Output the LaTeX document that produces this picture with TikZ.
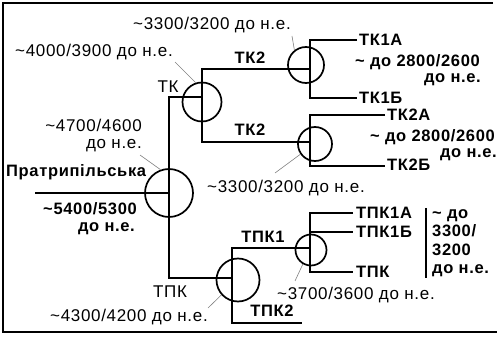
\documentclass[tikz,border=0pt]{standalone}
\usepackage{fontspec}
\setmainfont{Liberation Sans}
\newfontfamily\regfont[LetterSpace=4]{Liberation Sans}
\newfontfamily\boldfont[LetterSpace=4]{Liberation Sans Bold}
\newcommand\tld{\char"7E\relax}
\begin{document}
\begin{tikzpicture}[x=1pt,y=-1pt,
  trunk/.style={line width=2.3pt},
  branch/.style={line width=1.9pt},
  ring/.style={circle,draw,line width=1.7pt,inner sep=0pt},
  leader/.style={line width=0.6pt,gray},
  bl/.style={font=\boldfont\fontsize{16.5}{17}\selectfont,inner sep=0pt},
  rl/.style={font=\regfont\fontsize{17}{17}\selectfont,inner sep=0pt}]
\useasboundingbox (0,0) rectangle (499,337);
% frame
\draw[line width=2pt] (493,3) -- (3,3) -- (3,332) -- (497,332);
% circles
\node[ring,minimum size=48pt] (main) at (169,193) {};
\node[ring,minimum size=39pt] (tk) at (202,102) {};
\node[ring,minimum size=36pt] (tkone) at (306,65) {};
\node[ring,minimum size=34pt] (tktwo) at (315,144) {};
\node[ring,minimum size=43pt] (tpk) at (238,280) {};
\node[ring,minimum size=31pt] (tpkone) at (311,250) {};
% junction coordinates
\coordinate (pstart) at (35,193);
\coordinate (mtop) at (169,97);
\coordinate (mbot) at (169,278);
\coordinate (tkin) at (202,97);
\coordinate (tkup) at (202,69);
\coordinate (tkdn) at (202,142);
\coordinate (tkonein) at (310,69);
\coordinate (tkoneup) at (310,40);
\coordinate (tkonedn) at (310,98);
\coordinate (tkoneA) at (357,40);
\coordinate (tkoneB) at (357,98);
\coordinate (tktwoin) at (310,142);
\coordinate (tktwoup) at (310,115);
\coordinate (tktwodn) at (310,166);
\coordinate (tktwoA) at (385,115);
\coordinate (tktwoB) at (385,166);
\coordinate (tpkin) at (232,278);
\coordinate (tpkup) at (232,248);
\coordinate (tpkdn) at (232,323);
\coordinate (tpktwoend) at (302,323);
\coordinate (tpkonein) at (310,248);
\coordinate (tpkoneup) at (310,213);
\coordinate (tpkonemid) at (310,232);
\coordinate (tpkonedn) at (310,272);
\coordinate (tpkoneA) at (353,213);
\coordinate (tpkoneB) at (353,232);
\coordinate (tpkoneC) at (353,272);
\coordinate (bartop) at (426,208);
\coordinate (barbot) at (426,278);
% trunk lines
\draw[trunk] (pstart) -- (main.center);
\draw[trunk] (tkin) -- (mtop) -- (mbot) -- (tpkin);
\draw[trunk] (tkonein) -- (tkup) -- (tkdn) -- (tktwoin);
\draw[trunk] (tpkonein) -- (tpkup) -- (tpkdn) -- (tpktwoend);
% terminal branches
\draw[branch] (tkoneA) -- (tkoneup) -- (tkonedn) -- (tkoneB);
\draw[branch] (tktwoA) -- (tktwoup) -- (tktwodn) -- (tktwoB);
\draw[branch] (tpkoneA) -- (tpkoneup) -- (tpkonedn) -- (tpkoneC);
\draw[branch] (tpkonemid) -- (tpkoneB);
\draw[line width=1.3pt] (bartop) -- (barbot);
% bold labels
\node[bl,anchor=west] (lpra) at (6,172) {Пратрипільська};
\node[bl,anchor=east] (l5400) at (137,209) {\tld 5400/5300};
\node[bl,anchor=east] (l5400b) at (135,229) {до н.е.};
\node[bl] (ltktwoa) at (250,58) {ТК2};
\node[bl] (ltktwob) at (250,130) {ТК2};
\node[bl,anchor=west] (ltkoneA) at (359,40) {ТК1А};
\node[bl,anchor=west] (ltkonedate) at (355,62) {\tld\ до 2800/2600};
\node[bl,anchor=east] (ltkonedateb) at (481,80) {до н.е.};
\node[bl,anchor=west] (ltkoneB) at (359,98) {ТК1Б};
\node[bl,anchor=west] (ltktwoA) at (387,115) {ТК2А};
\node[bl,anchor=west] (ltktwodate) at (370,137) {\tld\ до 2800/2600};
\node[bl,anchor=east] (ltktwodateb) at (497,155) {до н.е.};
\node[bl,anchor=west] (ltktwoB) at (387,165) {ТК2Б};
\node[bl] (ltpkone) at (263,237) {ТПК1};
\node[bl] (ltpktwo) at (272,311) {ТПК2};
\node[bl,anchor=west] (ltpkoneA) at (356,213) {ТПК1А};
\node[bl,anchor=west] (ltpkoneB) at (356,232) {ТПК1Б};
\node[bl,anchor=west] (ltpkoneC) at (356,272) {ТПК};
\node[bl,anchor=north west,align=left,font=\boldfont\fontsize{16.5}{18.5}\selectfont] (ltpkdate) at (432,209) {\tld\ до\\3300/\\3200\\до н.е.};
% regular labels
\node[rl,anchor=west] (l3300a) at (133,25) {\tld 3300/3200 до н.е.};
\node[rl,anchor=west] (l4000) at (15,52) {\tld 4000/3900 до н.е.};
\node[rl] (ltk) at (168,87) {ТК};
\node[rl,anchor=north east,align=right,font=\regfont\fontsize{17}{16.5}\selectfont] (l4700) at (142,119) {\tld 4700/4600\\до н.е.};
\node[rl,anchor=west] (l3300b) at (207,188) {\tld 3300/3200 до н.е.};
\node[rl,anchor=west] (l3700) at (277,295) {\tld 3700/3600 до н.е.};
\node[rl] (ltpk) at (170,292) {ТПК};
\node[rl,anchor=west] (l4300) at (50,317) {\tld 4300/4200 до н.е.};
% leaders
\coordinate (c3300a) at (292,36);
\coordinate (c4000) at (175,62);
\coordinate (c4700) at (140,155);
\coordinate (c3300b) at (275,173);
\coordinate (c3700) at (295,281);
\coordinate (c4300) at (208,308);
\draw[leader] (c3300a) -- (tkone.128);
\draw[leader] (c4000) -- (tk.108);
\draw[leader] (c4700) -- (main.110);
\draw[leader] (c3300b) -- (tktwo.215);
\draw[leader] (c3700) -- (tpkone.240);
\draw[leader] (c4300) -- (tpk.222);
\end{tikzpicture}
\end{document}
